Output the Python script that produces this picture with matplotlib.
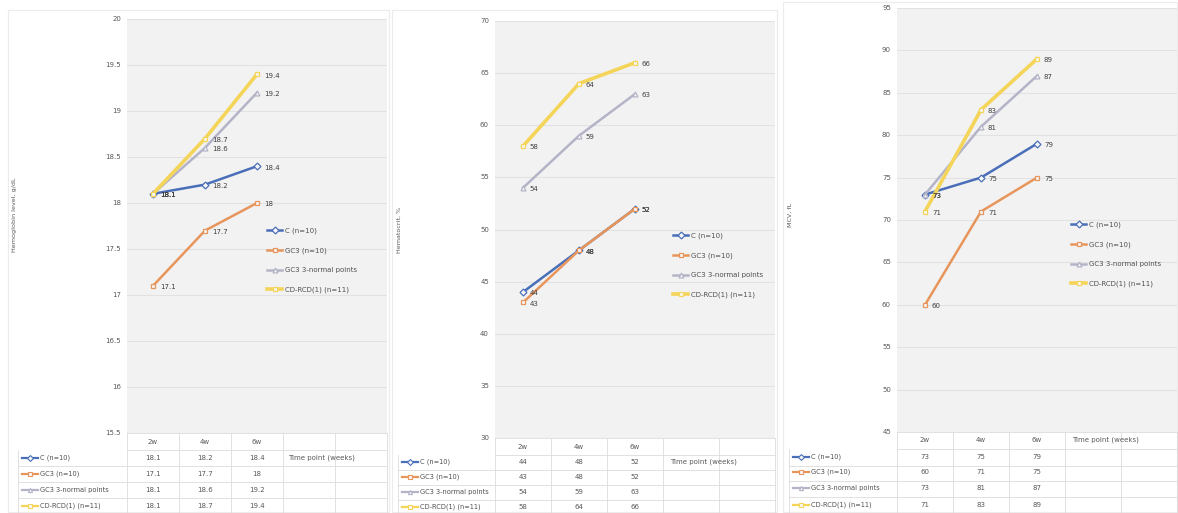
import matplotlib
matplotlib.use("Agg")
import matplotlib.pyplot as plt
import numpy as np

# ---------------- data ----------------
categories = ["2w", "4w", "6w"]
series_names = ["C (n=10)", "GC3 (n=10)", "GC3 3-normal points", "CD-RCD(1) (n=11)"]

p1_c = [18.1, 18.2, 18.4]
p1_gc3 = [17.1, 17.7, 18.0]
p1_norm = [18.1, 18.6, 19.2]
p1_cd = [18.1, 18.7, 19.4]
p1_ticks = [15.5, 16, 16.5, 17, 17.5, 18, 18.5, 19, 19.5, 20]

p2_c = [44, 48, 52]
p2_gc3 = [43, 48, 52]
p2_norm = [54, 59, 63]
p2_cd = [58, 64, 66]
p2_ticks = [30, 35, 40, 45, 50, 55, 60, 65, 70]

p3_c = [73, 75, 79]
p3_gc3 = [60, 71, 75]
p3_norm = [73, 81, 87]
p3_cd = [71, 83, 89]
p3_ticks = [45, 50, 55, 60, 65, 70, 75, 80, 85, 90, 95]

y_titles = ["Hemoglobin level, g/dL", "Hematocrit, %", "MCV, fL"]
table_title = "Time point (weeks)"

# ---------------- styles ----------------
colors = ["#4a6fb8", "#e8955c", "#b4b4c8", "#f4d55a"]
markers = ["D", "s", "^", "s"]
lws = [1.8, 1.8, 1.8, 2.6]
W, H = 1178, 513
fig = plt.figure(figsize=(W / 100, H / 100), dpi=100)
fig.patch.set_facecolor("white")

over = fig.add_axes([0, 0, 1, 1], zorder=-5)
over.set_xlim(0, W)
over.set_ylim(H, 0)
over.axis("off")

panels = [
    dict(data=[p1_c, p1_gc3, p1_norm, p1_cd], ticks=p1_ticks, title=y_titles[0],
         plot=(127, 19, 387, 433), frame=(8, 10, 389, 512), tick_x=121,
         ylab=(15, 215), rows=[442, 458, 474, 490, 506], lab_x=22,
         leg=(262, 223), title_row=1, fmt="{:g}"),
    dict(data=[p2_c, p2_gc3, p2_norm, p2_cd], ticks=p2_ticks, title=y_titles[1],
         plot=(495, 21, 775, 438), frame=(392, 10, 777, 512), tick_x=489,
         ylab=(399, 230), rows=[447, 462, 477, 492, 507], lab_x=402,
         leg=(668, 228), title_row=1, fmt="{:g}"),
    dict(data=[p3_c, p3_gc3, p3_norm, p3_cd], ticks=p3_ticks, title=y_titles[2],
         plot=(897, 8, 1177, 432), frame=(783, 2, 1177, 512), tick_x=891,
         ylab=(790, 215), rows=[440, 457, 472, 488, 505], lab_x=793,
         leg=(1066, 217), title_row=0, fmt="{:g}"),
]

ncat = 5
for p in panels:
    x0, y0, x1, y1 = p["plot"]
    ax = fig.add_axes([x0 / W, 1 - y1 / H, (x1 - x0) / W, (y1 - y0) / H])
    ax.set_facecolor("#f2f2f2")
    ax.set_xlim(-0.5, ncat - 0.5)
    ax.set_ylim(p["ticks"][0], p["ticks"][-1])
    ax.set_yticks(p["ticks"])
    ax.set_yticklabels([])
    ax.tick_params(length=0)
    ax.set_xticks([])
    ax.grid(axis="y", color="#e2e2e2", lw=0.8)
    ax.set_axisbelow(True)
    for s in ax.spines.values():
        s.set_visible(False)
    xs = np.arange(len(categories))
    handles = []
    for k, vals in enumerate(p["data"]):
        h, = ax.plot(xs, vals, color=colors[k], lw=lws[k], marker=markers[k],
                     ms=3.5, mfc="#f7f7f7", mec=colors[k], mew=0.9,
                     label=series_names[k], zorder=3 + (k == 1))
        handles.append(h)
        for xi, v in zip(xs, vals):
            ax.annotate(p["fmt"].format(v), (xi, v), xytext=(5, -1),
                        textcoords="offset points", va="center", ha="left",
                        fontsize=5, color="#404040", zorder=6)
    lx, ly = p["leg"]
    ax.legend(handles=handles, loc="upper left",
              bbox_to_anchor=(lx / W, 1 - ly / H), bbox_transform=fig.transFigure,
              frameon=False, fontsize=5, labelspacing=1.9, handlelength=2.2,
              handletextpad=0.4, labelcolor="#505050", borderpad=0.2)

    # y tick labels
    for t in p["ticks"]:
        ypix = y0 + (p["ticks"][-1] - t) / (p["ticks"][-1] - p["ticks"][0]) * (y1 - y0)
        over.text(p["tick_x"], ypix, "{:g}".format(t), ha="right", va="center",
                  fontsize=5, color="#595959")
    # y axis title
    over.text(p["ylab"][0], p["ylab"][1], p["title"], rotation=90, ha="center",
              va="center", fontsize=4.6, color="#595959")
    # chart frame
    fx0, fy0, fx1, fy1 = p["frame"]
    over.plot([fx0, fx1, fx1, fx0, fx0], [fy0, fy0, fy1, fy1, fy0],
              color="#ececec", lw=0.8)

    # data table
    rows = p["rows"]
    rh = rows[1] - rows[0]
    top = y1
    bottom = rows[-1] + rh / 2
    cw = (x1 - x0) / ncat
    gc = "#dcdcdc"
    for r in range(len(rows)):
        yb = rows[r] + rh / 2
        xl = x0 if r == 0 else p["lab_x"] - 4
        over.plot([xl, x1], [yb, yb], color=gc, lw=0.6)
    over.plot([x0, x1], [top, top], color=gc, lw=0.6)
    for c in range(ncat + 1):
        xc = x0 + c * cw
        over.plot([xc, xc], [top, bottom], color=gc, lw=0.6)
    over.plot([p["lab_x"] - 4, p["lab_x"] - 4], [rows[0] + rh / 2, bottom], color=gc, lw=0.6)
    for i, cat in enumerate(categories):
        over.text(x0 + (i + 0.5) * cw, rows[0], cat, ha="center", va="center",
                  fontsize=5, color="#595959")
    for k, vals in enumerate(p["data"]):
        yr = rows[k + 1]
        kx = p["lab_x"]
        over.plot([kx, kx + 16], [yr, yr], color=colors[k], lw=1.6)
        over.plot([kx + 8], [yr], marker=markers[k], ms=3, color=colors[k],
                  mfc="#f7f7f7", mew=0.8)
        over.text(kx + 18, yr, series_names[k], ha="left", va="center",
                  fontsize=4.8, color="#505050")
        for i, v in enumerate(vals):
            over.text(x0 + (i + 0.5) * cw, yr, p["fmt"].format(v), ha="center",
                      va="center", fontsize=5, color="#595959")
    over.text(x0 + 3.5 * cw + 12, rows[p["title_row"]], table_title,
              ha="center", va="center", fontsize=5, color="#595959")

fig.savefig("out.png", dpi=100, facecolor="white")
